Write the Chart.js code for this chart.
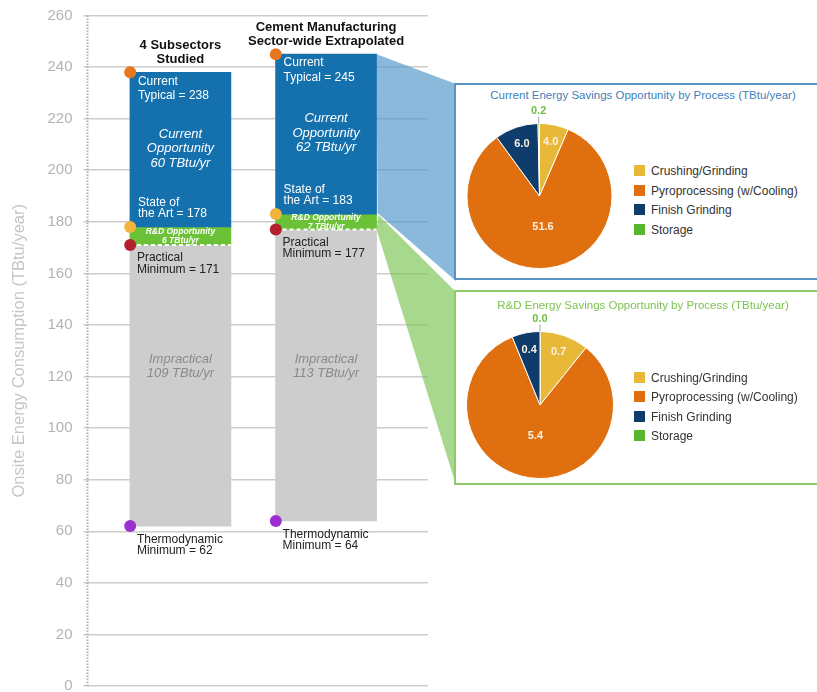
<!DOCTYPE html>
<html>
<head>
<meta charset="utf-8">
<title>Cement Manufacturing energy bandwidth</title>
<script src="https://cdn.jsdelivr.net/npm/chart.js@4.4.1/dist/chart.umd.min.js"></script>
<style>
  html, body { margin: 0; padding: 0; background: #fff; overflow: hidden; }
  body { font-family: "Liberation Sans", Arial, Helvetica, sans-serif; }
  #wrap { position: relative; width: 817px; height: 692px; overflow: hidden; }
  #mainChart { position: absolute; left: 0; top: 0; }
  .panel { position: absolute; left: 454px; width: 370px; background: #fff; box-sizing: border-box; }
  #panelCurrent { top: 83px; height: 197px; border: 2px solid #5a93c2; }
  #panelRD { top: 290px; height: 195px; border: 2px solid #8fca68; }
  .panel-title { position: absolute; left: 0; width: 374px; text-align: center; font-size: 11.5px; line-height: 14px; white-space: nowrap; }
  #panelCurrent .panel-title { top: 3px; color: #3f80b8; }
  #panelRD .panel-title { top: 6px; color: #7cc24f; }
  .pie { position: absolute; }
  .legend-row { position: absolute; left: 634px; font-size: 12px; line-height: 14px; color: #333; white-space: nowrap; }
  .legend-row span { display: inline-block; width: 11px; height: 11px; margin-right: 6px; vertical-align: -1px; }
</style>
</head>
<body>
<div id="wrap">
  <canvas id="mainChart" width="817" height="692"></canvas>
  <div class="panel" id="panelCurrent"><div class="panel-title">Current Energy Savings Opportunity by Process (TBtu/year)</div></div>
  <div class="panel" id="panelRD"><div class="panel-title">R&amp;D Energy Savings Opportunity by Process (TBtu/year)</div></div>
  <canvas class="pie" id="pieCurrent" width="170" height="180" style="left:455px;top:96px"></canvas>
  <canvas class="pie" id="pieRD" width="170" height="184" style="left:455px;top:300px"></canvas>
  <div id="legendCurrent"></div>
  <div id="legendRD"></div>
</div>
<script>
const FONT = '"Liberation Sans", Arial, Helvetica, sans-serif';
Chart.defaults.font.family = FONT;

// ---- data ----
const columnTitles = [['4 Subsectors', 'Studied'], ['Cement Manufacturing', 'Sector-wide Extrapolated']];
const columnX = [1, 2];
const currentTypical = [238, 245];
const stateOfArt = [178, 183];
const practicalMin = [171, 177];
const thermoMin = [62, 64];
const currentOpportunity = [60, 62];
const rdOpportunity = [6, 7];
const impractical = [109, 113];
const yTicks = [0, 20, 40, 60, 80, 100, 120, 140, 160, 180, 200, 220, 240, 260];

const processes = ['Crushing/Grinding', 'Pyroprocessing (w/Cooling)', 'Finish Grinding', 'Storage'];
const currentByProcess = [4.0, 51.6, 6.0, 0.2];
const rdByProcess = [0.7, 5.4, 0.4, 0.0];
const processColors = ['#e8b838', '#e0700f', '#0e3c6b', '#5ab52e'];

// ---- main bandwidth chart ----
const MARKER_SHIFT = 0.345; // half a bar, in x units
const PANEL_X = 456;

function seg(lo, hi) { return columnX.map((x, i) => ({ x, y: [lo[i], hi[i]] })); }
function pts(vals) { return columnX.map((x, i) => ({ x: x - MARKER_SHIFT, y: vals[i] })); }

function barSet(label, lo, hi, color) {
    return { type: 'bar', label, data: seg(lo, hi), backgroundColor: color, borderWidth: 0,
        barThickness: 101, grouped: false, order: 2 };
}
function markerSet(label, vals, color) {
    return { type: 'line', label, data: pts(vals), showLine: false, pointRadius: 6, pointHoverRadius: 6,
        pointBackgroundColor: color, pointBorderWidth: 0, order: 1 };
}

function drawLines(ctx, arr, x, y0, gap) {
    arr.forEach((t, k) => ctx.fillText(t, x, y0 + k * gap));
}

const bandPlugin = {
    id: 'bandLabels',
    beforeDatasetsDraw(chart) {
        const { ctx, chartArea, scales: { y } } = chart;
        const bar = chart.getDatasetMeta(0).data[1];
        const r = bar.x + bar.width / 2;
        ctx.save();
        // dotted value axis
        ctx.strokeStyle = '#b0b0b0';
        ctx.lineWidth = 2;
        ctx.setLineDash([1.5, 1.5]);
        ctx.beginPath();
        ctx.moveTo(chartArea.left, chartArea.top);
        ctx.lineTo(chartArea.left, chartArea.bottom);
        ctx.stroke();
        ctx.setLineDash([]);
        // projection to the current opportunity panel
        ctx.fillStyle = 'rgba(75,148,200,0.65)';
        ctx.beginPath();
        ctx.moveTo(r, y.getPixelForValue(currentTypical[1]));
        ctx.lineTo(PANEL_X, 84);
        ctx.lineTo(PANEL_X, 281);
        ctx.lineTo(r + 1, y.getPixelForValue(stateOfArt[1]) - 1);
        ctx.closePath();
        ctx.fill();
        // projection to the R&D panel
        ctx.fillStyle = 'rgba(120,195,80,0.65)';
        ctx.beginPath();
        ctx.moveTo(r + 2, y.getPixelForValue(stateOfArt[1]) + 1);
        ctx.lineTo(PANEL_X, 292);
        ctx.lineTo(PANEL_X, 485);
        ctx.lineTo(r, y.getPixelForValue(practicalMin[1]));
        ctx.closePath();
        ctx.fill();
        ctx.restore();
    },
    afterDatasetDraw(chart, args) {
        // practical minimum dashed line, drawn once the bars are done (before the markers)
        if (args.index !== 0) return;
        const { ctx, scales: { y } } = chart;
        ctx.save();
        ctx.strokeStyle = '#fff';
        ctx.lineWidth = 2;
        ctx.setLineDash([4, 3]);
        chart.getDatasetMeta(0).data.forEach((bar, i) => {
            const pmin = y.getPixelForValue(practicalMin[i]);
            ctx.beginPath();
            ctx.moveTo(bar.x - bar.width / 2, pmin);
            ctx.lineTo(bar.x + bar.width / 2, pmin);
            ctx.stroke();
        });
        ctx.restore();
    },
    afterDatasetsDraw(chart) {
        const { ctx, scales: { y } } = chart;
        const bars = chart.getDatasetMeta(0).data;
        ctx.save();
        ctx.textBaseline = 'middle';
        bars.forEach((bar, i) => {
            const left = bar.x - bar.width / 2, cx = bar.x;
            const top = y.getPixelForValue(currentTypical[i]);
            const sota = y.getPixelForValue(stateOfArt[i]);
            const pmin = y.getPixelForValue(practicalMin[i]);
            const tmin = y.getPixelForValue(thermoMin[i]);

            // column header
            ctx.fillStyle = '#111';
            ctx.font = 'bold 13px ' + FONT;
            ctx.textAlign = 'center';
            drawLines(ctx, columnTitles[i], cx, top - 27, 14);

            // blue band
            ctx.fillStyle = '#fff';
            ctx.font = '12px ' + FONT;
            ctx.textAlign = 'left';
            drawLines(ctx, ['Current', 'Typical = ' + currentTypical[i]], left + 8, top + 9, 14.5);
            drawLines(ctx, ['State of', 'the Art = ' + stateOfArt[i]], left + 8, sota - 24.5, 11);
            ctx.font = 'italic 13px ' + FONT;
            ctx.textAlign = 'center';
            const midBlue = (top + sota) / 2 - 1;
            drawLines(ctx, ['Current', 'Opportunity', currentOpportunity[i] + ' TBtu/yr'], cx, midBlue - 14.5, 14.5);

            // green band
            ctx.font = 'bold italic 8.5px ' + FONT;
            drawLines(ctx, ['R&D Opportunity', rdOpportunity[i] + ' TBtu/yr'], cx, (sota + pmin) / 2 - 4.5, 9.5);

            // gray band
            ctx.fillStyle = '#222';
            ctx.font = '12px ' + FONT;
            ctx.textAlign = 'left';
            drawLines(ctx, ['Practical', 'Minimum = ' + practicalMin[i]], left + 7, pmin + 13, 11.5);
            drawLines(ctx, ['Thermodynamic', 'Minimum = ' + thermoMin[i]], left + 7, tmin + 14, 11);
            ctx.fillStyle = '#8a8a8a';
            ctx.font = 'italic 13px ' + FONT;
            ctx.textAlign = 'center';
            drawLines(ctx, ['Impractical', impractical[i] + ' TBtu/yr'], cx, y.getPixelForValue(124) - 7, 14);
        });
        ctx.restore();
    }
};

new Chart(document.getElementById('mainChart'), {
    type: 'bar',
    data: {
        datasets: [
            barSet('Current Opportunity', stateOfArt, currentTypical, '#1571ad'),
            barSet('R&D Opportunity', practicalMin, stateOfArt, '#6cc236'),
            barSet('Impractical', thermoMin, practicalMin, '#cdcdcd'),
            markerSet('Current Typical', currentTypical, '#e8781f'),
            markerSet('State of the Art', stateOfArt, '#f2b43c'),
            markerSet('Practical Minimum', practicalMin, '#b21f2d'),
            markerSet('Thermodynamic Minimum', thermoMin, '#9c2fd0')
        ]
    },
    options: {
        responsive: false,
        animation: false,
        layout: { padding: { top: 15.5, bottom: 3, left: 0, right: 389 } },
        scales: {
            x: { type: 'linear', min: 0.362, max: 2.70, display: false, offset: false },
            y: {
                min: 0,
                max: 260,
                afterBuildTicks: s => { s.ticks = yTicks.map(v => ({ value: v })); },
                afterFit: s => { s.width = 87.5; s.paddingTop = 0; s.paddingBottom = 0; },
                ticks: { color: '#b3b3b3', font: { size: 15 }, padding: 11 },
                grid: { color: '#cdcdcd', lineWidth: 1.5, tickLength: 4, tickColor: '#cdcdcd' },
                border: { display: false },
                title: {
                    display: true,
                    text: 'Onsite Energy Consumption (TBtu/year)',
                    color: '#c6c6c6',
                    font: { size: 16.5 },
                    padding: { top: 10, bottom: 0 }
                }
            }
        },
        plugins: { legend: { display: false }, tooltip: { enabled: false } }
    },
    plugins: [bandPlugin]
});

// ---- process pies ----
const pieLabelPlugin = {
    id: 'pieLabels',
    afterDatasetsDraw(chart) {
        const ctx = chart.ctx;
        const data = chart.data.datasets[0].data;
        const total = data.reduce((a, b) => a + b, 0);
        ctx.save();
        ctx.font = 'bold 11px ' + FONT;
        ctx.textAlign = 'center';
        ctx.textBaseline = 'middle';
        chart.getDatasetMeta(0).data.forEach((arc, i) => {
            const v = data[i];
            const frac = v / total;
            const mid = (arc.startAngle + arc.endAngle) / 2;
            const R = arc.outerRadius;
            const cos = Math.cos(mid), sin = Math.sin(mid);
            if (frac < 0.02) {
                ctx.strokeStyle = '#9aa7b0';
                ctx.lineWidth = 1;
                ctx.beginPath();
                ctx.moveTo(arc.x + cos * (R + 7), arc.y + sin * (R + 7));
                ctx.lineTo(arc.x + cos * R, arc.y + sin * R);
                ctx.stroke();
                ctx.fillStyle = '#6dbe45';
                ctx.fillText(v.toFixed(1), arc.x + cos * (R + 13), arc.y + sin * (R + 13));
            } else {
                const r = frac > 0.5 ? R * 0.43 : R * 0.76;
                ctx.fillStyle = '#fbf1e2';
                ctx.fillText(v.toFixed(1), arc.x + cos * r, arc.y + sin * r);
            }
        });
        ctx.restore();
    }
};

function makePie(id, values, padding) {
    return new Chart(document.getElementById(id), {
        type: 'pie',
        data: {
            labels: processes,
            datasets: [{ data: values, backgroundColor: processColors, borderColor: '#fff', borderWidth: 1 }]
        },
        options: {
            responsive: false,
            animation: false,
            layout: { padding },
            plugins: { legend: { display: false }, tooltip: { enabled: false } }
        },
        plugins: [pieLabelPlugin]
    });
}

makePie('pieCurrent', currentByProcess, { left: 11.5, right: 12.5, top: 27, bottom: 7 });
makePie('pieRD', rdByProcess, { left: 11, right: 11, top: 31, bottom: 5 });

function makeLegend(id, rowTops) {
    const el = document.getElementById(id);
    el.innerHTML = processes.map((p, i) =>
        `<div class="legend-row" style="top:${rowTops[i]}px"><span style="background:${processColors[i]}"></span>${p}</div>`
    ).join('');
}
makeLegend('legendCurrent', [164, 183.5, 203, 222.5]);
makeLegend('legendRD', [371, 390, 409.5, 429]);
</script>
</body>
</html>
